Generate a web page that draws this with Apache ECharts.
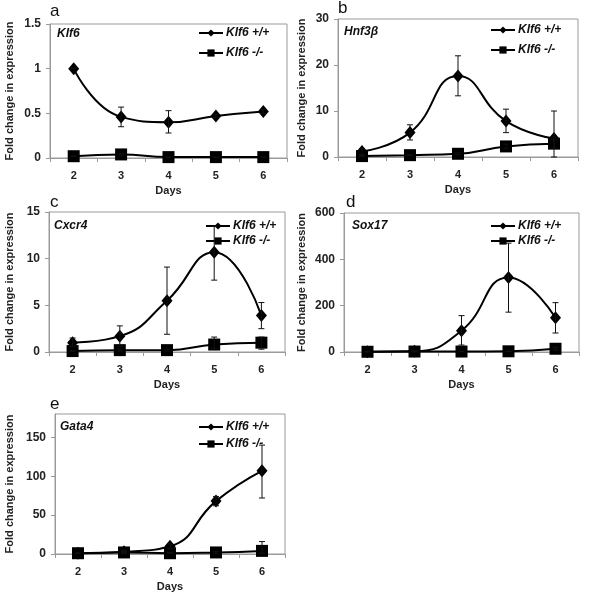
<!DOCTYPE html>
<html><head><meta charset="utf-8">
<script src="https://cdn.jsdelivr.net/npm/echarts@6/dist/echarts.min.js"></script>
<style>html,body{margin:0;padding:0;background:#fff}#c{width:589px;height:600px}</style>
</head><body><div id="c"></div>
<script>
const days = ['2','3','4','5','6'];
const panelLetters = ['a','b','c','d','e'];
const genes = ['Klf6','Hnf3β','Cxcr4','Sox17','Gata4'];
const seriesNames = ['Klf6 +/+','Klf6 -/-'];
const yMax = [1.5, 30, 15, 600, 180];
const yInterval = [0.5, 10, 5, 200, 50];

// Klf6
const klf6WT = [1.0, 0.46, 0.40, 0.47, 0.52];
const klf6WTLow = [1.0, 0.35, 0.28, 0.45, 0.50];
const klf6WTHigh = [1.0, 0.57, 0.53, 0.49, 0.54];
const klf6KO = [0.02, 0.04, 0.01, 0.01, 0.01];
const klf6KOLow = [0.02, 0.03, 0.01, 0.01, 0.01];
const klf6KOHigh = [0.02, 0.05, 0.01, 0.01, 0.01];
// Hnf3b
const hnfWT = [1.2, 5.3, 17.6, 7.8, 4.0];
const hnfWTLow = [0.6, 3.7, 13.3, 5.3, 0];
const hnfWTHigh = [1.8, 7.0, 22.0, 10.4, 10.0];
const hnfKO = [0.2, 0.4, 0.7, 2.3, 2.9];
const hnfKOLow = [0.1, 0.3, 0.5, 1.8, 2.0];
const hnfKOHigh = [0.3, 0.5, 0.9, 2.8, 3.8];
// Cxcr4
const cxcrWT = [1.0, 1.7, 5.5, 10.7, 3.9];
const cxcrWTLow = [0.6, 0.6, 1.9, 7.7, 2.5];
const cxcrWTHigh = [1.5, 2.8, 9.1, 13.5, 5.3];
const cxcrKO = [0.1, 0.2, 0.2, 0.8, 1.0];
const cxcrKOLow = [0.05, 0.1, 0.1, 0.4, 0.3];
const cxcrKOHigh = [0.15, 0.3, 0.3, 1.6, 1.6];
// Sox17
const soxWT = [1, 3, 92, 322, 148];
const soxWTLow = [1, 2, 30, 172, 82];
const soxWTHigh = [1, 4, 157, 470, 213];
const soxKO = [1, 2, 2, 3, 14];
const soxKOLow = [1, 1, 1, 2, 8];
const soxKOHigh = [1, 3, 3, 4, 20];
// Gata4
const gataWT = [1, 3, 10, 68, 107];
const gataWTLow = [1, 2, 7, 62, 72];
const gataWTHigh = [1, 5, 13, 74, 140];
const gataKO = [1, 2, 1, 2, 4];
const gataKOLow = [1, 1, 1, 1, 1];
const gataKOHigh = [1, 3, 2, 3, 16];

const wt = [klf6WT, hnfWT, cxcrWT, soxWT, gataWT];
const wtLow = [klf6WTLow, hnfWTLow, cxcrWTLow, soxWTLow, gataWTLow];
const wtHigh = [klf6WTHigh, hnfWTHigh, cxcrWTHigh, soxWTHigh, gataWTHigh];
const ko = [klf6KO, hnfKO, cxcrKO, soxKO, gataKO];
const koLow = [klf6KOLow, hnfKOLow, cxcrKOLow, soxKOLow, gataKOLow];
const koHigh = [klf6KOHigh, hnfKOHigh, cxcrKOHigh, soxKOHigh, gataKOHigh];

// layout
const grids = [
  {left:50, top:24, width:237, height:134},
  {left:338, top:19, width:240, height:138},
  {left:49, top:212, width:236, height:140},
  {left:344, top:213, width:235, height:139},
  {left:55, top:414, width:230, height:140}
];
const letterPos = [[50,3],[338,0],[50,194],[346,194],[50,396]];
const genePos = [[57,28],[344,26],[54,220],[352,220],[60,421]];
const legendPos = [[198,27,8],[490,24,8],[205,220,3],[490,220,3],[198,421,5]];
const nameGaps = [35,31,34,37,40];

const font = 'Arial, "Liberation Sans", sans-serif';
const grey = '#9a9a9a';

function errRender(params, api) {
  const x = api.value(0), lo = api.value(1), hi = api.value(2);
  const p1 = api.coord([x, lo]), p2 = api.coord([x, hi]);
  const w = 3;
  const st = {stroke:'#111', lineWidth:1};
  return {type:'group', children:[
    {type:'line', shape:{x1:p1[0],y1:p1[1],x2:p2[0],y2:p2[1]}, style:st},
    {type:'line', shape:{x1:p1[0]-w,y1:p1[1],x2:p1[0]+w,y2:p1[1]}, style:st},
    {type:'line', shape:{x1:p2[0]-w,y1:p2[1],x2:p2[0]+w,y2:p2[1]}, style:st}
  ]};
}

const option = {animation:false, grid:[], xAxis:[], yAxis:[], series:[], title:[], legend:[]};
for (let i = 0; i < 5; i++) {
  option.grid.push(Object.assign({show:true, borderColor:grey, borderWidth:1, backgroundColor:'transparent'}, grids[i]));
  option.xAxis.push({type:'category', gridIndex:i, data:days, boundaryGap:true,
    name:'Days', nameLocation:'middle', nameGap:27,
    nameTextStyle:{fontFamily:font, fontWeight:'bold', fontSize:11, color:'#222'},
    axisLine:{lineStyle:{color:grey, width:1}},
    axisTick:{show:true, inside:false, length:4, lineStyle:{color:grey}},
    axisLabel:{fontFamily:font, fontWeight:'bold', fontSize:11, color:'#222', margin:12},
    splitLine:{show:false}});
  option.yAxis.push({type:'value', gridIndex:i, min:0, max:yMax[i], interval:yInterval[i],
    name:'Fold change in expression', nameLocation:'middle', nameGap:nameGaps[i],
    nameTextStyle:{fontFamily:font, fontWeight:'bold', fontSize:11, color:'#222'},
    axisLine:{show:true, lineStyle:{color:grey, width:1}},
    axisTick:{show:true, inside:false, length:4, lineStyle:{color:grey}},
    axisLabel:{fontFamily:font, fontWeight:'bold', fontSize:12, color:'#222', margin:9, showMaxLabel: Math.abs(yMax[i]/yInterval[i] - Math.round(yMax[i]/yInterval[i]))<1e-9},
    splitLine:{show:false}});
  option.series.push({type:'line', name:seriesNames[1], xAxisIndex:i, yAxisIndex:i, data:ko[i], smooth:0.5,
    symbol:'rect', symbolSize:12, itemStyle:{color:'#000'}, lineStyle:{color:'#000', width:2}, z:3});
  option.series.push({type:'line', name:seriesNames[0], xAxisIndex:i, yAxisIndex:i, data:wt[i], smooth:0.5,
    symbol:'diamond', symbolSize:[11,13], itemStyle:{color:'#000'}, lineStyle:{color:'#000', width:2}, z:4});
  option.series.push({type:'custom', xAxisIndex:i, yAxisIndex:i, renderItem:errRender, z:5, silent:true,
    encode:{x:0, y:[1,2]}, data: days.map((d,k)=>[k, wtLow[i][k], wtHigh[i][k]])});
  option.series.push({type:'custom', xAxisIndex:i, yAxisIndex:i, renderItem:errRender, z:5, silent:true,
    encode:{x:0, y:[1,2]}, data: days.map((d,k)=>[k, koLow[i][k], koHigh[i][k]])});
  option.title.push({text:panelLetters[i], left:letterPos[i][0], top:letterPos[i][1], padding:0,
    textStyle:{fontFamily:font, fontWeight:'normal', fontSize:17, color:'#111'}});
  option.title.push({text:genes[i], left:genePos[i][0], top:genePos[i][1], padding:0,
    textStyle:{fontFamily:font, fontWeight:'bold', fontStyle:'italic', fontSize:12, color:'#111'}});
  option.legend.push({data:[seriesNames[0], seriesNames[1]], orient:'vertical', left:legendPos[i][0], top:legendPos[i][1],
    padding:0, itemGap:legendPos[i][2], itemWidth:24, itemHeight:9, selectedMode:false,
    textStyle:{fontFamily:font, fontWeight:'bold', fontStyle:'italic', fontSize:12, color:'#111', padding:[0,0,0,-2]}});
}
const chart = echarts.init(document.getElementById('c'), null, {renderer:'canvas'});
chart.setOption(option);
</script></body></html>
